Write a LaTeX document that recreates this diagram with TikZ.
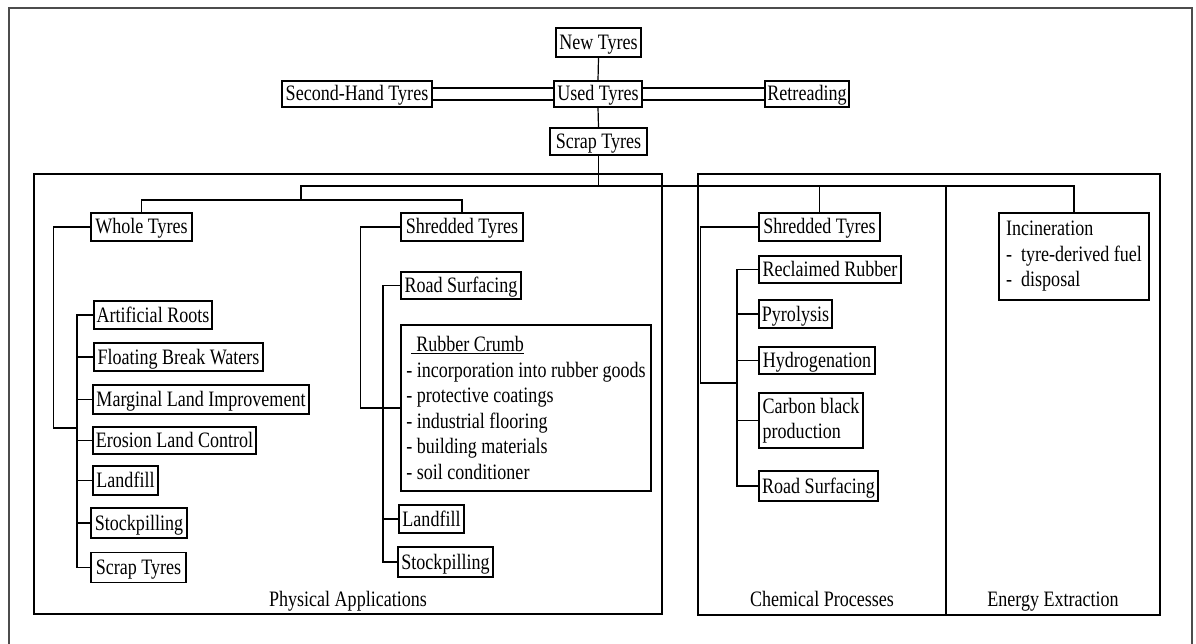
\documentclass[tikz,border=0pt]{standalone}
\usepackage{fontspec}
\setmainfont{Liberation Serif}[FakeStretch=0.82]
\begin{document}
\begin{tikzpicture}[x=1pt,y=-1pt,line width=1.2pt,
  bx/.style={draw, inner sep=0pt, text height=17pt, text depth=3pt, font=\fontsize{22}{25.5}\selectfont},
  mbx/.style={draw, inner sep=0pt, align=left, font=\fontsize{22}{25.5}\selectfont},
  lbl/.style={inner sep=0pt, anchor=base, font=\fontsize{22}{25.5}\selectfont},
  frame/.style={line width=1.5pt, black!70}]
\useasboundingbox (0,0) rectangle (1196,644);
% outer frame
\draw[frame] (9,644) -- (9,8) -- (1192,8) -- (1192,644);
% group frames
\draw (34,174) rectangle (662,614);
\draw (698,174) rectangle (1160,615);
\draw (946,186) -- (946,615);
\node[lbl] (lphys) at (348,606) {Physical Applications};
\node[lbl] (lchem) at (822,606) {Chemical Processes};
\node[lbl] (lener) at (1053,606) {Energy Extraction};
% top nodes
\node[bx, minimum width=85, minimum height=29] (nt) at (598.5,42.5) {New Tyres};
\node[bx, minimum width=88, minimum height=26] (ut) at (598,94) {Used Tyres};
\node[bx, minimum width=150, minimum height=26] (sh) at (357,94) {Second-Hand Tyres};
\node[bx, minimum width=84, minimum height=26] (rt) at (807,94) {Retreading};
\node[bx, minimum width=97, minimum height=27] (sct) at (598.5,141.5) {Scrap Tyres};
% physical - whole tyres
\node[bx, minimum width=101, minimum height=28] (wt) at (141.5,227) {Whole Tyres};
\node[bx, minimum width=118, minimum height=28] (ar) at (153,315) {Artificial Roots};
\node[bx, minimum width=169, minimum height=28] (fb) at (178.5,357) {Floating Break Waters};
\node[bx, minimum width=216, minimum height=29] (ml) at (201,399.5) {Marginal Land Improvement};
\node[bx, minimum width=163, minimum height=27] (el) at (174.5,440.5) {Erosion Land Control};
\node[bx, minimum width=65, minimum height=29] (lf1) at (125.5,480.5) {Landfill};
\node[bx, minimum width=96, minimum height=30] (sp1) at (139,523) {Stockpilling};
\node[bx, minimum width=95, minimum height=30] (sc1) at (138.5,567.5) {Scrap Tyres};
% physical - shredded tyres
\node[bx, minimum width=122, minimum height=28] (st1) at (462,227) {Shredded Tyres};
\node[bx, minimum width=120, minimum height=27] (rs1) at (461,285.5) {Road Surfacing};
\node[mbx, minimum width=250, minimum height=166] (rc) at (526,408)
  {\hspace*{5pt}\underline{\hspace{5pt}Rubber Crumb}\\- incorporation into rubber goods\\- protective coatings\\- industrial flooring\\- building materials\\- soil conditioner};
\node[bx, minimum width=65, minimum height=28] (lf2) at (431.5,519) {Landfill};
\node[bx, minimum width=95, minimum height=30] (sp2) at (445.5,562) {Stockpilling};
% chemical
\node[bx, minimum width=121, minimum height=28] (st2) at (819.5,227) {Shredded Tyres};
\node[bx, minimum width=142, minimum height=27] (rr) at (830,269.5) {Reclaimed Rubber};
\node[bx, minimum width=73, minimum height=28] (py) at (795.5,314) {Pyrolysis};
\node[bx, minimum width=116, minimum height=27] (hy) at (817,360.5) {Hydrogenation};
\node[mbx, minimum width=104, minimum height=55] (cb) at (811,420.5) {Carbon black\\production};
\node[bx, minimum width=119, minimum height=30] (rs2) at (818.5,486) {Road Surfacing};
% energy
\node[mbx, minimum width=150, minimum height=87] (inc) at (1074,256.5)
  {Incineration\\-\ \ tyre-derived fuel\\-\ \ disposal};
% top connectors
\draw (nt.south) -- (ut.north);
\draw (ut.south) -- (sct.north);
\draw ([yshift=6pt]sh.east) -- ([yshift=6pt]ut.west);
\draw ([yshift=-6pt]sh.east) -- ([yshift=-6pt]ut.west);
\draw ([yshift=6pt]ut.east) -- ([yshift=6pt]rt.west);
\draw ([yshift=-6pt]ut.east) -- ([yshift=-6pt]rt.west);
% bus
\coordinate (ja) at (301,200);
\coordinate (jb) at (301,186);
\draw (wt.north) |- (ja) -| (st1.north);
\draw (ja) -- (jb) -| (inc.north);
\draw (sct.south) -- (sct.south |- jb);
\draw (st2.north) -- (st2.north |- jb);
% whole tyres tree
\coordinate (k1) at (77,428);
\draw (wt.west) -- ++(-37,0) |- (k1);
\draw (ar.west) -- (ar.west -| k1) |- (sc1.west);
\foreach \n in {fb,ml,el,lf1,sp1} \draw (\n.west) -- (\n.west -| k1);
% shredded tyres tree (physical)
\coordinate (k2) at (383,408);
\draw (st1.west) -- ++(-40,0) |- (rc.west |- k2);
\draw (rs1.west) -- (rs1.west -| k2) |- (sp2.west);
\draw (lf2.west) -- (lf2.west -| k2);
% chemical tree
\coordinate (k3) at (737,383);
\draw (st2.west) -- ++(-58,0) |- (k3);
\draw (rr.west) -- (rr.west -| k3) |- (rs2.west);
\foreach \n in {py,hy,cb} \draw (\n.west) -- (\n.west -| k3);
\end{tikzpicture}
\end{document}
